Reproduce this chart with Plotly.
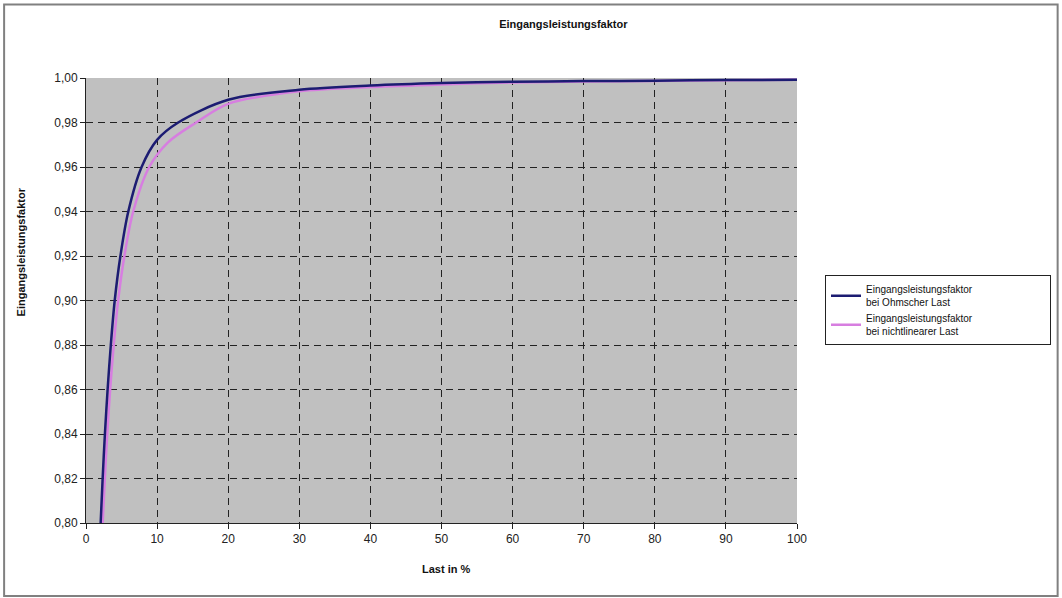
import plotly.graph_objects as go

# ---- data ----
load_ohm = [2.06, 2.34, 2.66, 3.04, 3.49, 4.04, 4.84, 5.95, 7.82, 10, 12.97, 20, 30, 40, 50, 60, 70, 80, 90, 100]
pf_ohm = [0.80, 0.82, 0.84, 0.86, 0.88, 0.90, 0.92, 0.94, 0.96, 0.9722, 0.98, 0.9902, 0.9947, 0.9966,
          0.9977, 0.9983, 0.9986, 0.9988, 0.9991, 0.9992]

load_nl = [2.35, 2.65, 2.99, 3.40, 3.90, 4.52, 5.40, 6.64, 8.89, 11.5, 15.5, 20, 30, 40, 50, 60, 70, 80, 90, 100]
pf_nl = [0.80, 0.82, 0.84, 0.86, 0.88, 0.90, 0.92, 0.94, 0.96, 0.971, 0.98, 0.9884, 0.9940, 0.9959,
         0.9971, 0.9980, 0.9984, 0.9987, 0.9990, 0.9992]

PAD = "&nbsp;" * 26
name_ohm = "Eingangsleistungsfaktor" + PAD + "<br>bei Ohmscher Last"
name_nl = "Eingangsleistungsfaktor" + PAD + "<br>bei nichtlinearer Last"

x_ticks = list(range(0, 101, 10))
y_ticks = [0.80, 0.82, 0.84, 0.86, 0.88, 0.90, 0.92, 0.94, 0.96, 0.98, 1.00]

title_text = "Eingangsleistungsfaktor"
x_title = "Last in %"
y_title = "Eingangsleistungsfaktor"

FONT = "Liberation Sans, Arial, sans-serif"

fig = go.Figure()
fig.add_trace(go.Scatter(x=load_nl, y=pf_nl, mode="lines", name=name_nl,
                         line=dict(color="#d77ee0", width=2.5, shape="spline", smoothing=0.9),
                         legendrank=2))
fig.add_trace(go.Scatter(x=load_ohm, y=pf_ohm, mode="lines", name=name_ohm,
                         line=dict(color="#1c1c72", width=2.5, shape="spline", smoothing=0.9),
                         legendrank=1))

L, R, T, B = 86, 264, 77.5, 75
W, H = 1062, 598
pw, ph = W - L - R, H - T - B

def px_x(p):
    return (p - L) / pw

def px_y(p):
    return (H - B - p) / ph

grid = dict(showgrid=True, gridcolor="#222222", gridwidth=1.2, griddash="7px,5px")

fig.update_layout(
    width=W, height=H,
    margin=dict(l=L, r=R, t=T, b=B),
    paper_bgcolor="white",
    plot_bgcolor="#c0c0c0",
    separators=",.",
    font=dict(family=FONT, size=12, color="#111111"),
    title=dict(text="<b>" + title_text + "</b>", x=px_x(564), xref="paper", xanchor="center",
               y=1 - 24 / H, yanchor="middle", font=dict(size=11, family=FONT, color="#111111")),
    xaxis=dict(range=[0, 100], tickvals=x_ticks, ticks="outside", ticklen=5, tickcolor="#222",
               showline=True, linecolor="#222", linewidth=1, zeroline=False,
               tickfont=dict(size=12, color="#222"), **grid),
    yaxis=dict(range=[0.80, 1.00], tickvals=y_ticks, tickformat=".2f", ticks="outside", ticklen=5,
               tickcolor="#222", showline=True, linecolor="#222", linewidth=1, zeroline=False,
               tickfont=dict(size=12, color="#222"), **grid),
    showlegend=True,
    legend=dict(x=px_x(825), y=px_y(275), xanchor="left", yanchor="top",
                bordercolor="#222", borderwidth=1, bgcolor="white",
                font=dict(size=10, family=FONT, color="#111"),
                tracegroupgap=0, itemwidth=30),
    annotations=[
        dict(text="<b>" + x_title + "</b>", xref="paper", yref="paper", x=px_x(447), y=px_y(569),
             showarrow=False, xanchor="center", yanchor="middle", font=dict(size=11, family=FONT)),
        dict(text="<b>" + y_title + "</b>", xref="paper", yref="paper", x=px_x(21), y=px_y(252),
             showarrow=False, textangle=-90, xanchor="center", yanchor="middle",
             font=dict(size=11, family=FONT)),
    ],
    shapes=[
        dict(type="rect", xref="paper", yref="paper", x0=px_x(4), x1=px_x(1059), y0=px_y(596), y1=px_y(4),
             line=dict(color="#808080", width=2), layer="below"),
    ],
)

fig.write_html("out.html")
